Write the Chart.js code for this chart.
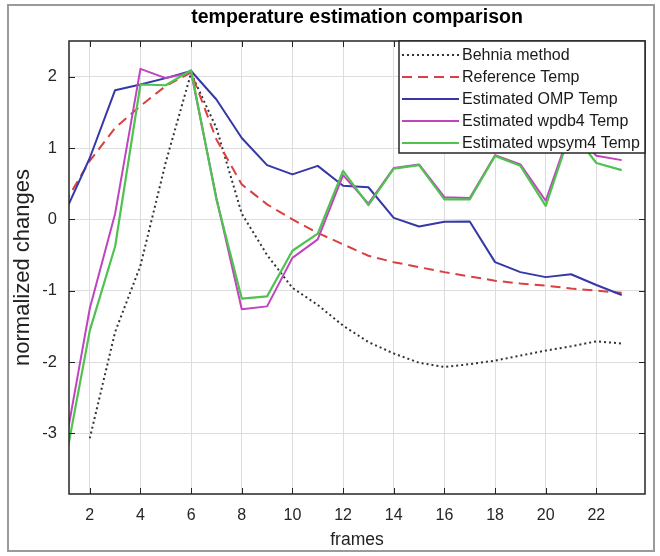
<!DOCTYPE html>
<html><head><meta charset="utf-8">
<script src="https://cdn.jsdelivr.net/npm/chart.js@4.4.0/dist/chart.umd.min.js"></script>
<style>html,body{margin:0;padding:0;background:#fff;}#wrap{width:660px;height:556px;position:relative;}</style>
</head><body><div id="wrap"><canvas id="c" width="660" height="556"></canvas></div>
<script>
const frames = [1,2,3,4,5,6,7,8,9,10,11,12,13,14,15,16,17,18,19,20,21,22,23];
const behnia = [null,-3.07,-1.58,-0.65,0.80,2.05,1.28,0.08,-0.50,-0.96,-1.20,-1.49,-1.72,-1.88,-2.01,-2.07,-2.03,-1.98,-1.91,-1.84,-1.78,-1.71,-1.74];
const referenceTemp = [0.22,0.82,1.28,1.59,1.87,2.06,1.12,0.49,0.21,0.00,-0.19,-0.35,-0.51,-0.60,-0.67,-0.74,-0.80,-0.86,-0.90,-0.93,-0.97,-1.00,-1.03];
const ompTemp = [0.08,0.86,1.81,1.89,1.98,2.08,1.68,1.14,0.76,0.63,0.75,0.47,0.45,0.02,-0.10,-0.035,-0.03,-0.60,-0.74,-0.81,-0.77,-0.92,-1.06];
const wpdb4Temp = [-3.23,-1.25,0.08,2.11,1.98,2.06,0.30,-1.26,-1.22,-0.54,-0.28,0.62,0.22,0.72,0.77,0.31,0.30,0.90,0.77,0.26,1.28,0.89,0.83];
const wpsym4Temp = [-3.46,-1.56,-0.38,1.89,1.88,2.09,0.28,-1.11,-1.08,-0.44,-0.20,0.68,0.20,0.71,0.76,0.28,0.28,0.89,0.75,0.19,1.25,0.79,0.69];
const seriesNames = ['Behnia method','Reference Temp','Estimated OMP Temp','Estimated wpdb4 Temp','Estimated wpsym4 Temp'];
const xTicks = [2,4,6,8,10,12,14,16,18,20,22];
const yTicks = [-3,-2,-1,0,1,2];

const FONT = '"Liberation Sans", Arial, Helvetica, sans-serif';
const pts = arr => frames.map((f,i)=>({x:f,y:arr[i]}));

const styles = [
  {color:'#333333', dash:[2,3], width:2},
  {color:'#d9403f', dash:[10,6], width:2},
  {color:'#3538a6', dash:[], width:2},
  {color:'#c043c0', dash:[], width:2},
  {color:'#4fc24f', dash:[], width:2.2}
];
const allData = [behnia, referenceTemp, ompTemp, wpdb4Temp, wpsym4Temp];
const datasets = allData.map((arr,i)=>({
  label: seriesNames[i], data: pts(arr), borderColor: styles[i].color, borderDash: styles[i].dash,
  borderWidth: styles[i].width, pointRadius:0, fill:false, tension:0, order: 5-i, spanGaps:false,
  borderCapStyle:'butt', borderJoinStyle:'round'
}));

const framePlugin = {
  id:'framePlugin',
  afterDraw(chart){
    const ctx = chart.ctx, a = chart.chartArea;
    const xs = chart.scales.x, ys = chart.scales.y;
    ctx.save();
    ctx.strokeStyle = '#222'; ctx.lineWidth = 1;
    ctx.beginPath();
    xTicks.forEach(v=>{const px=Math.round(xs.getPixelForValue(v))+0.5;
      ctx.moveTo(px,a.bottom); ctx.lineTo(px,a.bottom-6);
      ctx.moveTo(px,a.top); ctx.lineTo(px,a.top+6);});
    yTicks.forEach(v=>{const py=Math.round(ys.getPixelForValue(v))+0.5;
      ctx.moveTo(a.left,py); ctx.lineTo(a.left+6,py);
      ctx.moveTo(a.right,py); ctx.lineTo(a.right-6,py);});
    ctx.stroke();
    ctx.strokeStyle = '#262626'; ctx.lineWidth = 1.5;
    ctx.strokeRect(a.left, a.top, a.right-a.left, a.bottom-a.top);
    const lx = 399, ly = a.top, lw = a.right - 399, lh = 112;
    ctx.fillStyle = '#fff'; ctx.fillRect(lx, ly, lw, lh);
    ctx.strokeStyle = '#262626'; ctx.lineWidth = 1.5; ctx.strokeRect(lx, ly, lw, lh);
    ctx.font = '16px ' + FONT; ctx.textBaseline = 'middle'; ctx.textAlign = 'left';
    chart.data.datasets.forEach((ds,i)=>{
      const y = ly + 14 + i*22;
      ctx.beginPath(); ctx.strokeStyle = ds.borderColor; ctx.lineWidth = ds.borderWidth;
      ctx.setLineDash(ds.borderDash); ctx.moveTo(402,y); ctx.lineTo(459,y); ctx.stroke();
      ctx.setLineDash([]);
      ctx.fillStyle = '#1a1a1a'; ctx.fillText(ds.label, 462, y+1);
    });
    ctx.strokeStyle = '#9a9a9a'; ctx.lineWidth = 2;
    ctx.strokeRect(8, 5, 646, 546);
    ctx.restore();
  }
};

new Chart(document.getElementById('c'), {
  type:'line',
  data:{datasets},
  plugins:[framePlugin],
  options:{
    responsive:false, animation:false, devicePixelRatio:1,
    layout:{padding:{left:0,right:15,top:0,bottom:0}},
    plugins:{
      legend:{display:false}, tooltip:{enabled:false},
      title:{display:true, text:'temperature estimation comparison', fullSize:false, color:'#000',
        font:{family:FONT, size:19.5, weight:'bold'}, padding:{top:5.5,bottom:12.1}}
    },
    scales:{
      x:{type:'linear', min:1.18, max:23.92,
        afterBuildTicks:s=>{s.ticks = xTicks.map(v=>({value:v}));},
        afterFit:s=>{s.height=62;},
        grid:{color:'#dddddd', drawTicks:false, lineWidth:1},
        border:{display:false},
        ticks:{padding:12, color:'#262626', font:{family:FONT,size:16}, callback:v=>String(v)},
        title:{display:true, text:'frames', color:'#222', font:{family:FONT,size:17.5}, padding:{top:0,bottom:5}}
      },
      y:{type:'linear', min:-3.85, max:2.5,
        afterBuildTicks:s=>{s.ticks = yTicks.map(v=>({value:v}));},
        afterFit:s=>{s.width=69;},
        grid:{color:'#dddddd', drawTicks:false, lineWidth:1},
        border:{display:false},
        ticks:{padding:12, color:'#262626', font:{family:FONT,size:16.5}, callback:v=>String(v)},
        title:{display:true, text:'normalized changes', color:'#222', font:{family:FONT,size:22}, padding:{top:9.8,bottom:0}}
      }
    }
  }
});
</script></body></html>
